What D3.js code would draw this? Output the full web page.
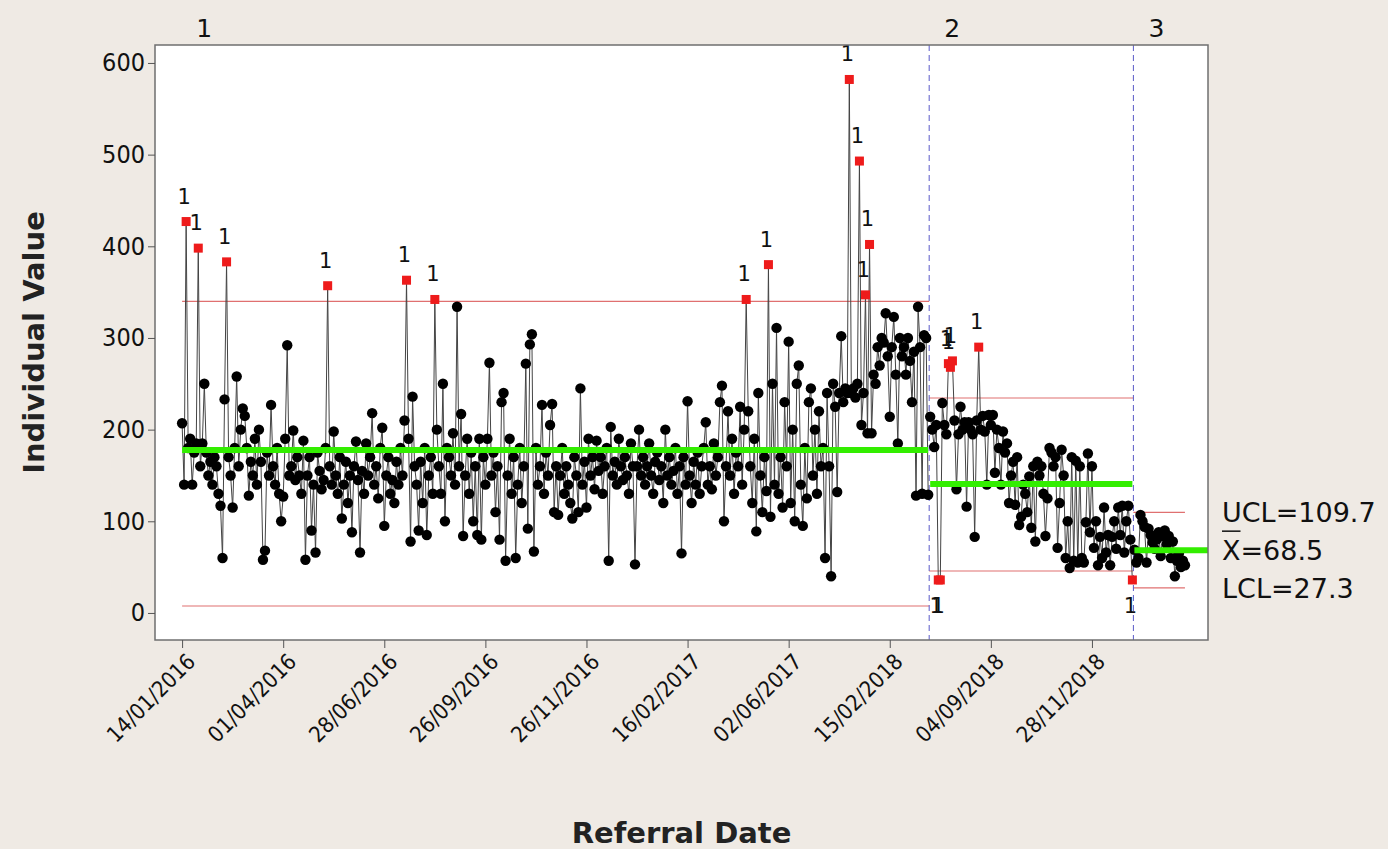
<!DOCTYPE html>
<html>
<head>
<meta charset="utf-8">
<script src="https://cdn.jsdelivr.net/npm/d3@7/dist/d3.min.js"></script>
<style>
  body { margin: 0; background: #efeae4; }
  svg { display: block; font-family: "DejaVu Sans", Verdana, sans-serif; }
  .cond { font-family: "DejaVu Sans Condensed", "DejaVu Sans", sans-serif; font-stretch: condensed; }
</style>
</head>
<body>
<svg id="chart" width="1388" height="849"></svg>
<script>
// individual values, one array per stage
var stage1 = [
  207,140,427,180,190,140,175,185,398,160, 185,250,175,150,165,140,170,160,130,117,
  60,233,383,170,150,115,180,258,160,200, 223,215,180,128,165,150,190,140,200,165,
  58,68,175,150,227,160,140,180,130,100, 127,190,292,150,160,199,145,170,150,130,
  188,58,150,170,90,140,66,175,155,135, 145,180,357,160,140,198,150,130,170,103,
  140,165,120,150,88,160,187,145,66,155, 130,185,150,170,218,140,160,125,180,202,
  95,150,170,130,145,120,165,140,180,150, 210,363,190,78,236,160,140,90,165,120,
  180,85,150,170,130,342,200,160,130,250, 100,180,170,150,196,140,334,160,217,84,
  150,190,130,175,100,160,85,190,80,170, 140,190,273,150,175,110,160,80,230,240,
  57,150,190,130,170,60,140,180,120,160, 272,92,293,304,67,180,140,160,227,130,
  175,150,205,228,110,160,107,150,180,130, 160,140,120,103,170,150,110,245,140,165,
  115,190,150,170,135,188,155,170,130,160, 180,57,203,150,165,140,190,160,145,170,
  150,130,185,160,53,160,200,150,170,140, 160,185,150,130,165,175,145,160,120,200,
  150,170,140,155,180,130,160,65,170,140, 231,150,120,165,140,175,130,160,180,208,
  140,160,135,185,150,170,230,248,100,160, 220,150,190,130,175,160,225,140,200,342,
  220,160,120,190,89,240,150,110,170,133, 380,105,250,140,311,130,170,115,230,160,
  296,120,200,100,250,270,140,95,180,125, 230,245,150,200,130,220,160,180,60,240,
  160,40,250,225,132,240,302,230,245,240, 582,240,245,235,250,493,205,240,347,196,
  402,196,260,250,290,270,300,295,327,280, 214,290,323,260,185,300,280,290,260,300,
  275,230,285,128,334,290,130,303,300,129
];
var stage2 = [
  214,200,181,205,36,36,229,205,195,272, 268,275,210,135,195,225,200,208,116,208,
  200,195,83,210,290,200,215,198,140,216, 205,216,153,200,180,140,198,175,185,120,
  150,165,118,170,96,105,140,130,110,149, 93,160,78,165,150,160,130,84,125,180,
  175,160,170,71,120,178,150,60,100,49, 170,57,166,55,160,60,55,99,174,88,
  160,71,100,52,83,60,115,66,85,52, 83,100,70,115,85,117,66,100,117,80,
  36
];
var stage3 = [
  69,55,60,107,100,94,55,92,85,77, 70,80,88,62,84,90,75,84,60,78,
  40,57,65,50,57,52
];
var stageNames = ["1", "2", "3"];
var stageCL  = [177.8, 140.7, 68.5];
var stageUCL = [340.0, 234.5, 109.7];
var stageLCL = [7.6, 45.8, 27.3];

var tickIdx = [0, 50, 100, 150, 200, 250, 300, 350, 400, 450];
var tickDates = ["14/01/2016", "01/04/2016", "28/06/2016", "26/09/2016", "26/11/2016",
                 "16/02/2017", "02/06/2017", "15/02/2018", "04/09/2018", "28/11/2018"];
var yTicks = [0, 100, 200, 300, 400, 500, 600];

var margin = {top: 45, right: 180, bottom: 209, left: 155},
    width = 1388 - margin.left - margin.right,
    height = 849 - margin.top - margin.bottom;

var svg = d3.select("#chart");
var g = svg.append("g").attr("transform", "translate(" + margin.left + "," + margin.top + ")");

var x = d3.scaleLinear().domain([-13.4, 507.4]).range([0, width]);
var y = d3.scaleLinear().domain([-29.5, 619.6]).range([height, 0]);

// flatten into one list with index and stage
var stages = [stage1, stage2, stage3];
var points = [], info = [], start = 0;
stages.forEach(function (vals, s) {
  vals.forEach(function (v, k) { points.push({i: start + k, v: v, s: s}); });
  info.push({first: start, last: start + vals.length - 1});
  start += vals.length;
});
points.forEach(function (d) { d.out = d.v > stageUCL[d.s] || d.v < stageLCL[d.s]; });

g.append("rect").attr("width", width).attr("height", height).attr("fill", "#fff");

// control limits
info.forEach(function (st, s) {
  var x0 = s == 0 ? x(st.first) : x(st.first - 0.5);
  var x1 = s == info.length - 1 ? x(st.last) : x(st.last + 0.5);
  [stageUCL[s], stageLCL[s]].forEach(function (lim) {
    g.append("line").attr("x1", x0).attr("x2", x1).attr("y1", y(lim)).attr("y2", y(lim))
      .style("stroke", "#e07070").style("stroke-width", 1.2);
  });
});

// stage boundaries
info.slice(1).forEach(function (st) {
  g.append("line").attr("x1", x(st.first - 0.5)).attr("x2", x(st.first - 0.5))
    .attr("y1", 0).attr("y2", height)
    .style("stroke", "#5a5ac8").style("stroke-width", 1).style("stroke-dasharray", "6,4");
});

var line = d3.line().x(function (d) { return x(d.i); }).y(function (d) { return y(d.v); });
stageNames.forEach(function (n, s) {
  g.append("path").datum(points.filter(function (d) { return d.s == s; }))
    .attr("d", line).style("fill", "none").style("stroke", "#444").style("stroke-width", 1);
});

g.append("g").selectAll("circle")
  .data(points.filter(function (d) { return !d.out; }))
  .enter().append("circle")
    .attr("cx", function (d) { return x(d.i); })
    .attr("cy", function (d) { return y(d.v); })
    .attr("r", 5.2)
    .style("fill", "#000");

var reds = points.filter(function (d) { return d.out; });
g.append("g").selectAll("rect")
  .data(reds)
  .enter().append("rect")
    .attr("x", function (d) { return x(d.i) - 4.5; })
    .attr("y", function (d) { return y(d.v) - 4.5; })
    .attr("width", 9).attr("height", 9)
    .style("fill", "#ee1b1b");
g.append("g").selectAll("text")
  .data(reds)
  .enter().append("text")
    .attr("x", function (d) { return x(d.i) - 2; })
    .attr("y", function (d) { return d.v > stageUCL[d.s] ? y(d.v) - 18 : y(d.v) + 33; })
    .attr("text-anchor", "middle")
    .style("font-size", "21px").style("fill", "#111")
    .text("1");

// center lines
info.forEach(function (st, s) {
  var x1 = s == info.length - 1 ? width : x(st.last);
  g.append("line").attr("x1", x(st.first)).attr("x2", x1)
    .attr("y1", y(stageCL[s])).attr("y2", y(stageCL[s]))
    .style("stroke", "#33ee00").style("stroke-width", 6);
});

g.append("rect").attr("width", width).attr("height", height)
  .style("fill", "none").style("stroke", "#6f6f6f").style("stroke-width", 1.5);

// axes
var yAxis = g.append("g").call(d3.axisLeft(y).tickValues(yTicks).tickSize(7).tickPadding(3));
yAxis.select(".domain").remove();
yAxis.selectAll("line").style("stroke", "#555");
yAxis.selectAll("text").attr("class", "cond").style("font-size", "25px").style("fill", "#111");

var xAxis = g.append("g").attr("transform", "translate(0," + height + ")")
  .call(d3.axisBottom(x).tickValues(tickIdx).tickSize(8)
    .tickFormat(function (d, k) { return tickDates[k]; }));
xAxis.select(".domain").remove();
xAxis.selectAll("line").style("stroke", "#555");
xAxis.selectAll("text")
  .attr("class", "cond")
  .attr("x", 0).attr("y", 0).attr("dy", "0")
  .attr("text-anchor", "end")
  .attr("transform", "translate(14,23) rotate(-45)")
  .style("font-size", "22px").style("fill", "#111");

// stage labels on top
info.forEach(function (st, s) {
  svg.append("text").attr("x", margin.left + x(st.first) + 22).attr("y", 37)
    .attr("text-anchor", "middle").style("font-size", "25px").style("fill", "#111")
    .text(stageNames[s]);
});

// limit labels for the last stage
var lx = margin.left + width + 14;
var last = stageNames.length - 1;
svg.append("text").attr("x", lx).attr("y", margin.top + y(stageUCL[last]))
  .attr("dy", "0.36em").style("font-size", "27px").style("fill", "#111")
  .text("UCL=" + stageUCL[last].toFixed(1));
var xbar = svg.append("text").attr("x", lx).attr("y", margin.top + y(stageCL[last]))
  .attr("dy", "0.36em").style("font-size", "27px").style("fill", "#111");
xbar.append("tspan").attr("id", "xb").text("X");
xbar.append("tspan").text("=" + stageCL[last].toFixed(1));
var xw = document.getElementById("xb").getComputedTextLength();
svg.append("line").attr("x1", lx).attr("x2", lx + xw)
  .attr("y1", margin.top + y(stageCL[last]) - 19).attr("y2", margin.top + y(stageCL[last]) - 19)
  .style("stroke", "#111").style("stroke-width", 1.5);
svg.append("text").attr("x", lx).attr("y", margin.top + y(stageLCL[last]))
  .attr("dy", "0.36em").style("font-size", "27px").style("fill", "#111")
  .text("LCL=" + stageLCL[last].toFixed(1));

svg.append("text").attr("transform", "translate(34," + (margin.top + height / 2) + ") rotate(-90)")
  .attr("dy", "0.35em")
  .attr("text-anchor", "middle").style("font-size", "29px").style("font-weight", "bold").style("fill", "#222")
  .text("Individual Value");
svg.append("text").attr("x", margin.left + width / 2).attr("y", 843)
  .attr("text-anchor", "middle").style("font-size", "29px").style("font-weight", "bold").style("fill", "#222")
  .text("Referral Date");
</script>
</body>
</html>
